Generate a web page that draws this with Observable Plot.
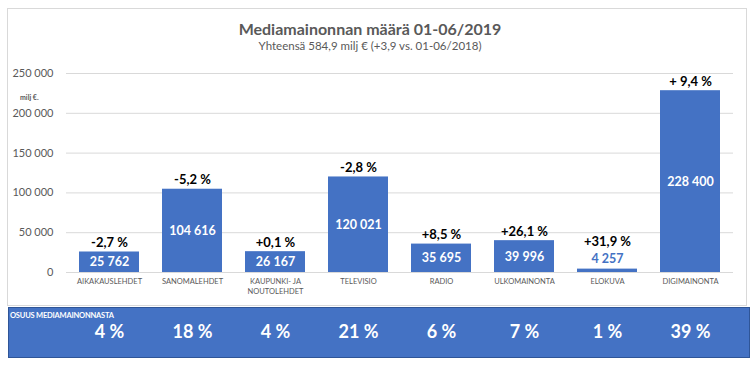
<!DOCTYPE html>
<html>
<head>
<meta charset="utf-8">
<script src="https://cdn.jsdelivr.net/npm/d3@7"></script>
<script src="https://cdn.jsdelivr.net/npm/@observablehq/plot@0.6"></script>
<style>
  html, body { margin: 0; padding: 0; background: #fff; }
  body { font-family: Lato, "Open Sans", sans-serif; }
  #wrap { position: relative; width: 754px; height: 365px; overflow: hidden; }
  .abs { position: absolute; }
  #frame { left: 7px; top: 8px; width: 740px; height: 298px; border: 1px solid #d9d9d9; box-sizing: border-box; }
  #band { left: 8px; top: 307px; width: 742px; height: 51px; background: #4472C4; border: 1px solid #2F5597; box-sizing: border-box; }
  #bandTitle { left: 10px; top: 311px; font-size: 7.5px; font-weight: 700; color: #fff; letter-spacing: -0.2px; }
  #title { left: 0; width: 740px; top: 19px; text-align: center; font-size: 16px; font-weight: 700; color: #595959; }
  #subtitle { left: 0; width: 740px; top: 39px; text-align: center; font-size: 11.5px; color: #595959; }
  #unit { left: 20px; top: 93px; font-size: 7px; font-weight: 700; color: #595959; }
  #chart { left: 0; top: 0; }
</style>
</head>
<body>
<div id="wrap">
  <div id="frame" class="abs"></div>
  <div id="band" class="abs"></div>
  <div id="bandTitle" class="abs">OSUUS MEDIAMAINONNASTA</div>
  <div id="title" class="abs">Mediamainonnan määrä 01-06/2019</div>
  <div id="subtitle" class="abs">Yhteensä 584,9 milj € (+3,9 vs. 01-06/2018)</div>
  <div id="unit" class="abs">milj €.</div>
  <div id="chart" class="abs"></div>
</div>
<script>
const categories = ["AIKAKAUSLEHDET", "SANOMALEHDET", "KAUPUNKI- JA\nNOUTOLEHDET", "TELEVISIO", "RADIO", "ULKOMAINONTA", "ELOKUVA", "DIGIMAINONTA"];
const values = [25762, 104616, 26167, 120021, 35695, 39996, 4257, 228400];
const changes = ["-2,7 %", "-5,2 %", "+0,1 %", "-2,8 %", "+8,5 %", "+26,1 %", "+31,9 %", "+ 9,4 %"];
const shares = ["4 %", "18 %", "4 %", "21 %", "6 %", "7 %", "1 %", "39 %"];
const yTicks = [0, 50000, 100000, 150000, 200000, 250000];

const data = categories.map((c, i) => ({cat: c, value: values[i], change: changes[i], share: shares[i]}));
const fmt = d => d3.format(",")(d).replace(/,/g, " ");
const small = d => d.value < 10000;
const big = d => !small(d);

const plot = Plot.plot({
  width: 754,
  height: 365,
  marginLeft: 66,
  marginRight: 21,
  marginTop: 73,
  marginBottom: 93,
  style: {background: "transparent", fontFamily: "Lato, 'Open Sans', sans-serif", overflow: "visible"},
  x: {domain: categories, paddingInner: 0.28, paddingOuter: 0.14, label: null},
  y: {domain: [0, 250000], label: null},
  marks: [
    Plot.gridY(yTicks, {stroke: "#d9d9d9", strokeOpacity: 1}),
    Plot.axisY(yTicks, {tickSize: 0, tickPadding: 13, tickFormat: fmt, fontSize: 11, fill: "#595959", label: null}),
    Plot.barY(data, {x: "cat", y: "value", fill: "#4472C4"}),
    Plot.ruleY([0], {stroke: "#d9d9d9"}),
    Plot.axisX({tickSize: 0, tickPadding: 5, fontSize: 7.5, fill: "#595959", label: null, lineHeight: 1.25}),
    Plot.text(data.filter(big), {x: "cat", y: d => d.value / 2, text: d => fmt(d.value), fill: "white", fontWeight: 700, fontSize: 12.5}),
    Plot.text(data.filter(small), {x: "cat", y: "value", dy: -10, text: d => fmt(d.value), fill: "#4472C4", fontWeight: 700, fontSize: 12.5}),
    Plot.text(data.filter(big), {x: "cat", y: "value", dy: -9, text: "change", fill: "black", fontWeight: 700, fontSize: 13}),
    Plot.text(data.filter(small), {x: "cat", y: "value", dy: -27, text: "change", fill: "black", fontWeight: 700, fontSize: 13}),
    Plot.text(data, {x: "cat", frameAnchor: "bottom", dy: 65, text: "share", fill: "white", fontWeight: 700, fontSize: 18})
  ]
});
document.getElementById("chart").appendChild(plot);
</script>
</body>
</html>
